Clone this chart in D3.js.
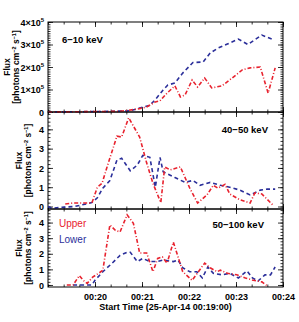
<!DOCTYPE html>
<html>
<head>
<meta charset="utf-8">
<script src="https://cdn.jsdelivr.net/npm/d3@7"></script>
<style>
  body { margin: 0; background: #fff; }
  svg text { font-family: "Liberation Sans", Arial, sans-serif; font-weight: bold; fill: #000; }
</style>
</head>
<body>
<div id="vis"></div>
<script>
// seconds after 00:19:00, flux values
var lo610Time = [0, 66, 105, 117, 130, 137, 147, 153, 162, 172, 185, 198, 207, 217, 229, 243, 255, 273, 287];
var lo610Flux = [0, 0.02, 0.05, 0.18, 0.3, 0.55, 0.98, 1.2, 1.29, 1.73, 2.2, 2.22, 2.62, 2.84, 3.02, 3.24, 3.0, 3.42, 3.22];
var up610Time = [0, 92, 114, 126, 137, 143, 152, 162, 169, 175, 184, 191, 200, 209, 222, 235, 248, 258, 271, 281, 290];
var up610Flux = [0, 0.03, 0.13, 0.22, 0.45, 0.5, 0.84, 1.16, 0.67, 0.76, 1.42, 1.11, 1.51, 1.07, 1.16, 1.51, 1.87, 1.96, 2.0, 0.84, 1.96];

var lo4050Time = [0, 5, 15, 34, 56, 63, 70, 79, 88, 94, 105, 114, 121, 130, 137, 143, 147, 162, 175, 185, 194, 207, 220, 232, 245, 258, 271, 280, 290];
var lo4050Flux = [0, -0.1, -0.05, 0, 0.2, 0.45, 0.95, 1.35, 2.4, 2.5, 1.85, 2.15, 2.65, 2.55, 1.0, 2.55, 1.8, 1.5, 1.25, 1.35, 1.1, 1.25, 1.1, 1.0, 0.85, 0.6, 0.85, 0.9, 0.9];
var up4050Time = [22, 32, 45, 56, 63, 69, 75, 88, 94, 103, 117, 126, 134, 144, 149, 156, 169, 181, 191, 203, 211, 217, 226, 232, 245, 258, 264, 273, 287];
var up4050Flux = [0.13, 0.18, 0.18, 0.18, 1.0, 1.2, 2.0, 3.65, 3.6, 4.6, 3.6, 2.25, 1.2, 0.2, 2.05, 1.9, 2.05, 0.95, 0.18, 0.6, 1.1, 0.95, 1.15, 0.65, 0.35, 0.18, 0.7, 0.65, 0.08];

var lo50100Time = [32, 56, 60, 70, 82, 92, 101, 105, 114, 121, 130, 139, 147, 160, 166, 172, 181, 190, 197, 204, 211, 222, 232, 243, 254, 261, 268, 277, 284, 290];
var lo50100Flux = [0, 0, 0.3, 0.85, 1.4, 1.9, 2.1, 2.1, 1.5, 1.7, 1.5, 1.5, 1.6, 1.5, 1.6, 1.1, 0.85, 0.85, 0.45, 1.15, 0.75, 0.65, 0.75, 0.45, 0.9, 0.45, 0.25, 0.65, 0.65, 1.15];
var up50100Time = [24, 32, 40, 45, 50, 57, 66, 70, 79, 86, 92, 101, 109, 117, 126, 134, 140, 146, 152, 160, 172, 184, 200, 207, 216, 220, 229, 241, 252, 262, 273, 281];
var up50100Flux = [0, 0, 0.6, 0.3, 0.1, 0.5, 0.8, 0.95, 3.85, 3.5, 3.4, 4.5, 3.95, 2.05, 2.05, 0.85, 1.7, 1.8, 1.4, 2.75, 0.85, 0.3, 1.4, 1.1, 0.85, 0.95, 0.75, 0.65, 0.45, 0.3, 0.2, -0.1];

var bandLabels = ["6\u221210 keV", "40\u221250 keV", "50\u2212100 keV"];
var xTickSecs = [60, 120, 180, 240, 300];
var legendNames = ["Upper", "Lower"];

var red = "#e8222e", blue = "#2b2f9a";
var W = 299, H = 322;
var left = 48, right = 283;

var svg = d3.select("#vis").append("svg")
    .attr("width", W)
    .attr("height", H);

var x = d3.scaleLinear().domain([0, 300]).range([left, right]);

var panels = [
  { top: 22, bottom: 112, domain: [0, 4], major: [0, 1, 2, 3, 4], minorStep: 0.1, sci: true,
    label: bandLabels[0], lx: 62, ly: 43, anchor: "start",
    series: [[up610Time, up610Flux, "up"], [lo610Time, lo610Flux, "lo"]] },
  { top: 112, bottom: 209, domain: [-0.13, 4.9], major: [0, 1, 2, 3, 4], minorStep: 0.2, sci: false,
    label: bandLabels[1], lx: 268, ly: 133, anchor: "end",
    series: [[up4050Time, up4050Flux, "up"], [lo4050Time, lo4050Flux, "lo"]] },
  { top: 209, bottom: 287, domain: [-0.13, 4.87], major: [0, 1, 2, 3, 4], minorStep: 0.2, sci: false,
    label: bandLabels[2], lx: 264, ly: 228, anchor: "end",
    series: [[up50100Time, up50100Flux, "up"], [lo50100Time, lo50100Flux, "lo"]] }
];

svg.append("defs").append("clipPath").attr("id", "clip")
  .append("rect").attr("x", left).attr("y", 22).attr("width", right - left).attr("height", 287 - 22);

var xMinor = d3.range(0, 301, 20);

panels.forEach(function(p, i) {
  var y = d3.scaleLinear().domain(p.domain).range([p.bottom, p.top]);
  var g = svg.append("g").attr("class", "panel");

  var minorVals = d3.range(Math.ceil(p.domain[0] / p.minorStep) * p.minorStep, p.domain[1] + 1e-9, p.minorStep);

  // y ticks, inward on both sides
  g.append("g").attr("transform", "translate(" + left + ",0)")
    .call(d3.axisLeft(y).tickValues(minorVals).tickSize(-2.5).tickFormat(""));
  g.append("g").attr("transform", "translate(" + right + ",0)")
    .call(d3.axisRight(y).tickValues(minorVals).tickSize(-2.5).tickFormat(""));
  g.append("g").attr("transform", "translate(" + right + ",0)")
    .call(d3.axisRight(y).tickValues(p.major).tickSize(-5).tickFormat(""));
  var yl = g.append("g").attr("transform", "translate(" + left + ",0)")
    .call(d3.axisLeft(y).tickValues(p.major).tickSize(-5).tickPadding(4).tickFormat(""));

  yl.selectAll(".tick").append("text")
    .attr("x", -4)
    .attr("dy", "0.35em")
    .attr("text-anchor", "end")
    .attr("font-size", 9)
    .each(function(d) {
      var t = d3.select(this);
      if (p.sci && d > 0) {
        t.append("tspan").text(d + "\u00d710");
        t.append("tspan").attr("dy", -4).attr("font-size", 6).text("5");
      } else {
        t.text(d);
      }
    });

  // x ticks top and bottom, inward
  g.append("g").attr("transform", "translate(0," + p.bottom + ")")
    .call(d3.axisBottom(x).tickValues(xMinor).tickSize(-2.5).tickFormat(""));
  g.append("g").attr("transform", "translate(0," + p.top + ")")
    .call(d3.axisTop(x).tickValues(xMinor).tickSize(-2.5).tickFormat(""));
  g.append("g").attr("transform", "translate(0," + p.top + ")")
    .call(d3.axisTop(x).tickValues(xTickSecs).tickSize(-5).tickFormat(""));
  var xb = g.append("g").attr("transform", "translate(0," + p.bottom + ")")
    .call(d3.axisBottom(x).tickValues(xTickSecs).tickSize(-5).tickPadding(5)
      .tickFormat(function(s) { return i == 2 ? "00:" + (19 + s / 60) : ""; }));
  xb.selectAll("text").attr("font-size", 9).attr("font-family", null).attr("dy", "0.9em");

  g.selectAll(".domain").remove();
  g.selectAll(".tick line").attr("stroke", "#000").attr("stroke-width", 0.8);

  // frame
  g.append("rect")
    .attr("x", left).attr("y", p.top)
    .attr("width", right - left).attr("height", p.bottom - p.top)
    .attr("fill", "none").attr("stroke", "#000").attr("stroke-width", 1);

  var line = d3.line()
    .x(function(d) { return x(d[0]); })
    .y(function(d) { return y(d[1]); });

  // lower first, upper on top
  p.series.slice().reverse().forEach(function(s) {
    var pts = s[0].map(function(t, k) { return [t, s[1][k]]; });
    g.append("path")
      .datum(pts)
      .attr("clip-path", "url(#clip)")
      .attr("d", line)
      .attr("fill", "none")
      .attr("stroke", s[2] == "up" ? red : blue)
      .attr("stroke-width", 1.6)
      .attr("stroke-dasharray", s[2] == "up" ? "4,2,1,2" : "4,3");
  });

  g.append("text")
    .attr("x", p.lx).attr("y", p.ly)
    .attr("text-anchor", p.anchor)
    .attr("font-size", 9.5)
    .text(p.label);

  // y axis title
  var cy = (p.top + p.bottom) / 2;
  var tx = i == 0 ? 10 : 22;
  g.append("text")
    .attr("transform", "translate(" + tx + "," + cy + ") rotate(-90)")
    .attr("text-anchor", "middle")
    .attr("font-size", 8.5)
    .text("Flux");
  var sub = g.append("text")
    .attr("transform", "translate(" + (tx + 8.5) + "," + cy + ") rotate(-90)")
    .attr("text-anchor", "middle")
    .attr("font-size", 8.5);
  sub.append("tspan").text("[photons cm");
  sub.append("tspan").attr("dy", -3).attr("font-size", 5.5).text("\u22122");
  sub.append("tspan").attr("dy", 3).text(" s");
  sub.append("tspan").attr("dy", -3).attr("font-size", 5.5).text("\u22121");
  sub.append("tspan").attr("dy", 3).text("]");
});

// legend
svg.append("text").attr("x", 59).attr("y", 227).attr("font-size", 10)
  .style("fill", red).style("font-weight", "normal").text(legendNames[0]);
svg.append("text").attr("x", 59).attr("y", 243).attr("font-size", 10)
  .style("fill", blue).style("font-weight", "normal").text(legendNames[1]);

svg.append("text")
  .attr("x", (left + right) / 2).attr("y", 310)
  .attr("text-anchor", "middle")
  .attr("font-size", 9)
  .text("Start Time (25-Apr-14 00:19:00)");
</script>
</body>
</html>
